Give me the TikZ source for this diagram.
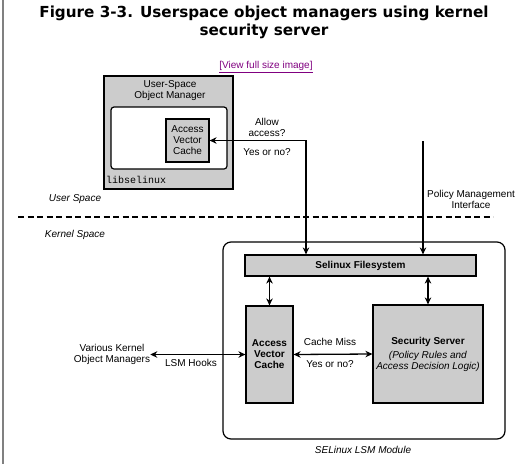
\documentclass[tikz,border=0pt]{standalone}
\usepackage{fontspec}
\setmainfont{Liberation Sans}
\setmonofont{Liberation Mono}
\newfontfamily\titlefont{DejaVu Sans}
\usetikzlibrary{shapes,arrows,arrows.meta,positioning}
\definecolor{boxgray}{RGB}{204,204,204}
\definecolor{linkpurple}{RGB}{128,0,128}

\begin{document}
\begin{tikzpicture}[x=1pt,y=-1pt,
    node font=\fontsize{10}{11}\selectfont,
    block/.style={rectangle, draw, fill=boxgray, line width=1.2pt, align=center, inner sep=0pt},
    lbl/.style={align=center, inner sep=0pt},
    arrow/.style={->,>={Stealth[length=7pt,width=6.5pt]},line width=1.3pt}]

\useasboundingbox (0,0) rectangle (530,464);
\draw[gray, line width=1.5pt] (3,0) -- (3,464);

% Title
\node[lbl, font=\titlefont\bfseries\fontsize{15.2}{18}\selectfont] (title) at (264,22) {Figure 3-3. Userspace object managers using kernel\\security server};
\node[lbl, text=linkpurple] (link) at (266,67) {\underline{[View full size image]}};

% User space
\node[block, minimum width=129, minimum height=113] (usom) at (168.5,132.5) {};
\node[lbl] (usomtxt) at (170,90.5) {User-Space\\Object Manager};
\node[rectangle, draw, fill=white, rounded corners=3pt, line width=1.2pt, minimum width=116, minimum height=62] (inner) at (169,138) {};
\node[block, minimum width=43, minimum height=43] (uavc) at (187.5,140.5) {Access\\Vector\\Cache};
\node[lbl, anchor=west, font=\ttfamily] (libse) at (106,180) {libselinux};

\node[lbl, font=\itshape] (uspace) at (75,199) {User Space};
\node[lbl, font=\itshape] (kspace) at (75,235) {Kernel Space};
\draw[line width=1.5pt, dash pattern=on 6pt off 3.5pt] (18,217) -- (493,217);

% Kernel
\node[rectangle, draw, rounded corners=8pt, line width=1.2pt, minimum width=282, minimum height=197] (lsm) at (364,340.5) {};
\node[lbl, font=\itshape] (lsmtxt) at (363,450) {SELinux LSM Module};
\node[block, font=\bfseries, minimum width=231, minimum height=21] (fs) at (360.5,265.5) {Selinux Filesystem};
\node[block, font=\bfseries, minimum width=47, minimum height=97] (kavc) at (269.5,354.5) {Access\\Vector\\Cache};
\node[block, minimum width=110, minimum height=98] (ss) at (428,354) {\textbf{Security Server}\\[3pt]\textit{(Policy Rules and}\\\textit{Access Decision Logic)}};
\node[lbl] (vkom) at (112,354.5) {Various Kernel\\Object Managers};

% Connections
\coordinate (pmtop) at (423,141);
\draw[arrow,<->] (uavc.east) -| ([xshift=-54.5pt]fs.north);
\draw[arrow] (pmtop) -- (pmtop |- fs.north);
\draw[arrow,<->] (kavc.north |- fs.south) -- (kavc.north);
\draw[arrow,<->] (ss.north |- fs.south) -- (ss.north);
\draw[arrow,<->] (kavc.east) -- (ss.west);
\draw[arrow,<->] (vkom.east) -- (kavc.west);

% Labels
\node[lbl] (allow) at (267,127) {Allow\\access?};
\node[lbl] (yesno1) at (267,152) {Yes or no?};
\node[lbl] (pmi) at (471,199.5) {Policy Management\\Interface};
\node[lbl] (miss) at (330,342) {Cache Miss};
\node[lbl] (yesno2) at (330,364) {Yes or no?};
\node[lbl] (hooks) at (191,363) {LSM Hooks};
\end{tikzpicture}
\end{document}
